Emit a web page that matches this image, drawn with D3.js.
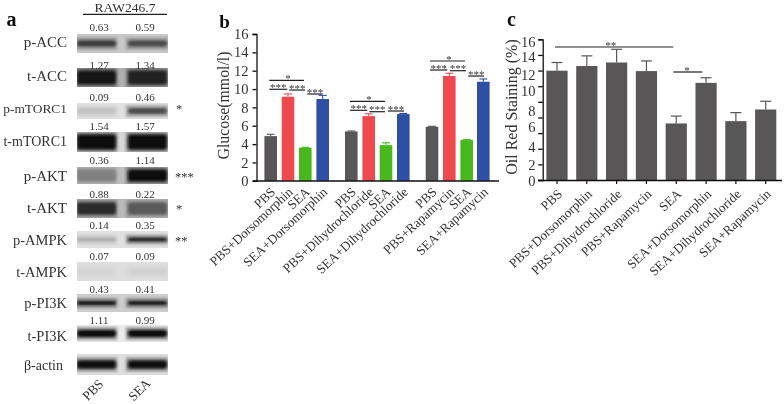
<!DOCTYPE html>
<html><head><meta charset="utf-8">
<script src="https://cdn.jsdelivr.net/npm/d3@7"></script>
<style>html,body{margin:0;padding:0;background:#fff}svg{display:block}text{font-family:"Liberation Serif",serif;fill:#333}</style>
</head><body><svg id="c" width="784" height="404"></svg>
<script>
// ---- panel a
const blotNames=["p-ACC","t-ACC","p-mTORC1","t-mTORC1","p-AKT","t-AKT","p-AMPK","t-AMPK","p-PI3K","t-PI3K","β-actin"];
const blotPBS=["0.63","1.27","0.09","1.54","0.36","0.88","0.14","0.07","0.43","1.11",""];
const blotSEA=["0.59","1.34","0.46","1.57","1.14","0.22","0.35","0.09","0.41","0.99",""];
const blotStars=["","","*","","***","*","**","","","",""];
const bandDarkPBS=[0.74,0.95,0.14,1,0.34,0.82,0.25,0.05,0.95,1,1];
const bandDarkSEA=[0.66,0.88,0.68,1,0.98,0.55,0.92,0.06,0.9,1,1];
const blotBg=[200,175,225,215,190,185,225,222,205,235,222];
// ---- panel b
const glucoseCats=["PBS","PBS+Dorsomorphin","SEA","SEA+Dorsomorphin","PBS","PBS+Dihydrochloride","SEA","SEA+Dihydrochloride","PBS","PBS+Rapamycin","SEA","SEA+Rapamycin"];
const glucoseVals=[4.87,9.16,3.6,8.91,5.38,7.05,3.89,7.27,5.89,11.42,4.44,10.8];
const glucoseErr=[0.2,0.3,0.05,0.4,0.05,0.25,0.25,0.07,0.05,0.3,0.07,0.3];
const glucoseColors=["#595757","#ee4a4d","#4ab81c","#2f4fa3"];
// ---- panel c
const oilCats=["PBS","PBS+Dorsomorphin","PBS+Dihydrochloride","PBS+Rapamycin","SEA","SEA+Dorsomorphin","SEA+Dihydrochloride","SEA+Rapamycin"];
const oilVals=[11.95,12.55,13.0,11.9,6.2,10.4,6.5,8.0];
const oilErr=[1.05,1.3,1.7,1.3,0.95,0.65,1.1,0.7];
const yTicks=[0,2,4,6,8,10,12,14,16];

const svg=d3.select("#c");
const defs=svg.append("defs");
defs.append("filter").attr("id","bl").attr("x","-20%").attr("y","-100%").attr("width","140%").attr("height","300%")
  .append("feGaussianBlur").attr("stdDeviation","1.6 1.3");
const soft=defs.append("filter").attr("id","soft").attr("filterUnits","userSpaceOnUse").attr("x",0).attr("y",0).attr("width",784).attr("height",404);
soft.append("feGaussianBlur").attr("stdDeviation","0.32");
const root=svg.append("g").attr("filter","url(#soft)");
const serif=(s,x,y,size,anchor="middle")=>root.append("text").attr("x",x).attr("y",y).attr("font-size",size).attr("text-anchor",anchor).text(s);

// panel a layout
const rowTop=[34,68,103,132,167,199,231,262,294,325,354];
const rowBot=[53,87,119,152,184,218,248,281,312,342,375];
const rowLabelY=[42,76,108,141,176,208,240,272,303,336,365];
const rowNumY=[31,69,100.5,129.5,164,198,229,260,292.5,323.5,0];
const coreH=[6,14,6,15,12,12,3.5,6,4,7,8];
serif("a",11.5,26,20).attr("font-weight","bold").style("fill","#111");
serif("RAW246.7",125,12,13.5);
root.append("line").attr("x1",83).attr("x2",167).attr("y1",14.4).attr("y2",14.4).attr("stroke","#222").attr("stroke-width",1.1);
blotNames.forEach((n,i)=>{
  const t=rowTop[i],b=rowBot[i],c=(t+b)/2,bg=blotBg[i];
  const cid="row"+i;
  defs.append("clipPath").attr("id",cid).append("rect").attr("x",77).attr("y",t).attr("width",91).attr("height",b-t);
  const g=root.append("g").attr("clip-path",`url(#${cid})`);
  g.append("rect").attr("x",77).attr("y",t).attr("width",91).attr("height",b-t).attr("fill",`rgb(${bg},${bg},${bg})`);
  [bandDarkPBS[i],bandDarkSEA[i]].forEach((d,k)=>{
    const v=Math.round(bg-(bg-12)*d), x=k?128:77;
    g.append("rect").attr("x",x-2).attr("y",c-coreH[i]/2-3).attr("width",42).attr("height",coreH[i]+6)
      .attr("fill",`rgb(${v},${v},${v})`).attr("opacity",0.35).attr("filter","url(#bl)");
    g.append("rect").attr("x",x).attr("y",c-coreH[i]/2).attr("width",39).attr("height",coreH[i])
      .attr("rx",3).attr("fill",`rgb(${v},${v},${v})`).attr("filter","url(#bl)");
  });
  const fs=n==="t-mTORC1"?14:n==="p-mTORC1"?13.4:n.length===6?14.5:15;
  serif(n,i===10?63:67,rowLabelY[i]+4.5,i===10?14:fs,"end");
  if(blotStars[i]) serif(blotStars[i],blotStars[i].length>1?175:176,rowLabelY[i]+5,12.5,"start");
  if(blotPBS[i]) serif(blotPBS[i],99,rowNumY[i],11);
  if(blotSEA[i]) serif(blotSEA[i],145,rowNumY[i],11);
});
[["PBS",96,393],["SEA",142.5,393]].forEach(([t,x,y])=>{
  root.append("text").attr("transform",`translate(${x},${y}) rotate(-45)`).attr("text-anchor","middle").attr("font-size",13.2).text(t);
});

const tilt=(t,x,y,size=13.2)=>root.append("text").attr("transform",`translate(${x},${y}) rotate(-43)`).attr("text-anchor","end").attr("font-size",size).text(t);
const sig=(x1,x2,y,s,sx)=>{
  root.append("line").attr("x1",x1).attr("x2",x2).attr("y1",y).attr("y2",y).attr("stroke","#222").attr("stroke-width",1.2);
  if(s) serif(s,sx===undefined?(x1+x2)/2:sx,y+1.5,11);
};

// panel b
serif("b",224.5,28,19).attr("font-weight","bold").style("fill","#111");
const yb=d3.scaleLinear().domain([0,16]).range([180.8,34]);
const bx=[270.7,288,305.3,322.7,351.3,368.7,386,403.3,432,449.3,466.7,483.3];
const xb=d3.scaleOrdinal().domain(d3.range(12)).range(bx);
const gb=root.append("g");
glucoseVals.forEach((v,i)=>{
  const c=glucoseColors[i%4],x=xb(i);
  gb.append("line").attr("x1",x).attr("x2",x).attr("y1",yb(v)).attr("y2",yb(v+glucoseErr[i])).attr("stroke",c).attr("stroke-width",1.1);
  gb.append("line").attr("x1",x-4).attr("x2",x+4).attr("y1",yb(v+glucoseErr[i])).attr("y2",yb(v+glucoseErr[i])).attr("stroke",c).attr("stroke-width",1.1);
  gb.append("rect").attr("x",x-6.3).attr("width",12.6).attr("y",yb(v)).attr("height",yb(0)-yb(v)).attr("fill",c);
  tilt(glucoseCats[i],x+5.5,193);
});
const gAxB=root.append("g").attr("transform","translate(256.5,0)").call(d3.axisLeft(yb).tickValues(yTicks).tickSize(4).tickFormat(d3.format("d")));
gAxB.selectAll("path,line").attr("stroke","#111").attr("stroke-width",1.3);
gAxB.selectAll("text").attr("font-size",14.5).attr("font-family","Liberation Serif").attr("fill","#333").attr("dx",-1);
root.append("line").attr("x1",253).attr("x2",499).attr("y1",181).attr("y2",181).attr("stroke","#111").attr("stroke-width",1.4);
root.append("text").attr("transform","translate(229,105.5) rotate(-90)").attr("text-anchor","middle").attr("font-size",15.8).text("Glucose(mmol/l)");
sig(269.3,304,80.3,"*",288);sig(269.3,287.3,89.3,"***");sig(289.3,305,90,"***");sig(307.3,322.7,94,"***");
sig(350,385,101.3,"*",369);sig(350,367.3,110.3,"***");sig(369.3,385,111.7,"***");sig(388,404,111,"***");
sig(430,465,61,"*",449);sig(430,447.3,70,"***");sig(450,466,70.7,"***");sig(468.3,484,76,"***");

// panel c: the axis labels and ticks of the reference are not evenly matched, so each has its own scale
serif("c",511.5,26,20).attr("font-weight","bold").style("fill","#111");
const yc=d3.scaleLinear().domain(yTicks).range([180,164.3,148.7,125,109.5,86,70.3,54.7,39.3]);
const tickIdx=d3.range(10);
const yTick=d3.scaleLinear().domain([0,9]).range([180,39.3]);
const yLab=d3.scaleLinear().domain(yTicks).range([180.7,165,146.7,127.3,111,90.7,75,57.3,41.7]);
const xc=d3.scalePoint().domain(oilCats).range([557,765.7]);
const gc=root.append("g");
oilVals.forEach((v,i)=>{
  const x=xc(oilCats[i]);
  gc.append("line").attr("x1",x).attr("x2",x).attr("y1",yc(v)).attr("y2",yc(v+oilErr[i])).attr("stroke","#595757").attr("stroke-width",1.2);
  gc.append("line").attr("x1",x-5.5).attr("x2",x+5.5).attr("y1",yc(v+oilErr[i])).attr("y2",yc(v+oilErr[i])).attr("stroke","#595757").attr("stroke-width",1.2);
  gc.append("rect").attr("x",x-10.6).attr("width",21.2).attr("y",yc(v)).attr("height",yc(0)-yc(v)).attr("fill","#595757");
  root.append("line").attr("x1",x).attr("x2",x).attr("y1",180).attr("y2",184).attr("stroke","#111").attr("stroke-width",1.2);
  tilt(oilCats[i],x+6,195);
});
const gAxC=root.append("g").attr("transform","translate(542.7,0)").call(d3.axisLeft(yTick).tickValues(tickIdx).tickSize(4.5).tickFormat(""));
gAxC.selectAll("path,line").attr("stroke","#111").attr("stroke-width",1.3);
yTicks.forEach(t=>serif(t,535.5,yLab(t)+5,14.5,"end"));
root.append("line").attr("x1",538).attr("x2",782).attr("y1",180.5).attr("y2",180.5).attr("stroke","#111").attr("stroke-width",1.4);
root.append("text").attr("transform","translate(517,107) rotate(-90)").attr("text-anchor","middle").attr("font-size",16).text("Oil Red Staining (%)");
sig(555,673.3,47,"**",610.7);sig(673.3,702.3,72,"*",687);
</script></body></html>
